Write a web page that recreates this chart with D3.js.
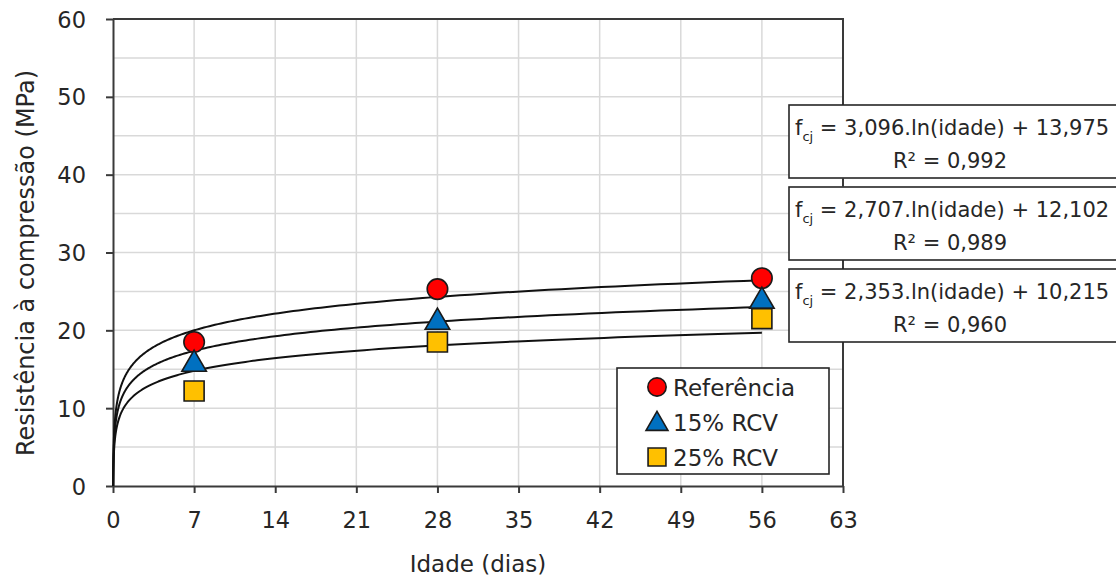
<!DOCTYPE html>
<html>
<head>
<meta charset="utf-8">
<script src="https://cdn.jsdelivr.net/npm/d3@7/dist/d3.min.js"></script>
<style>
  html, body { margin: 0; padding: 0; background: #fff; }
  svg text { font-family: "DejaVu Sans", sans-serif; fill: #262626; }
</style>
</head>
<body>
<div id="chart"></div>
<script>
// ages (days) where samples were tested
const ages = [7, 28, 56];
// series names and measured strengths (MPa)
const seriesNames = ["Referência", "15% RCV", "25% RCV"];
const refValues = [18.5, 25.3, 26.7];
const rcv15Values = [15.9, 21.3, 24.0];
const rcv25Values = [12.2, 18.5, 21.5];
// log trendline coefficients: f = a.ln(idade) + b
const trendA = [3.096, 2.707, 2.353];
const trendB = [13.975, 12.102, 10.215];
const trendA_txt = ["3,096", "2,707", "2,353"];
const trendB_txt = ["13,975", "12,102", "10,215"];
const r2Text = ["0,992", "0,989", "0,960"];
// axis ticks
const xTicks = [0, 7, 14, 21, 28, 35, 42, 49, 56, 63];
const yTicks = [0, 10, 20, 30, 40, 50, 60];
const yGrid = [5, 10, 15, 20, 25, 30, 35, 40, 45, 50, 55];

const W = 1116, H = 579;
const plot = { left: 113, right: 843, top: 19, bottom: 486 };

const svg = d3.select("#chart").append("svg")
  .attr("width", W).attr("height", H);
svg.append("rect").attr("width", W).attr("height", H).attr("fill", "#fff");

const x = d3.scaleLinear().domain([0, 63]).range([plot.left, plot.right]);
const y = d3.scaleLinear().domain([0, 60]).range([plot.bottom, plot.top]);

// gridlines
const grid = svg.append("g").attr("stroke", "#d9d9d9").attr("stroke-width", 1.5);
grid.selectAll(".gy").data(yGrid).enter().append("line")
  .attr("x1", plot.left).attr("x2", plot.right)
  .attr("y1", d => y(d)).attr("y2", d => y(d));
grid.selectAll(".gx").data(xTicks.slice(1, -1)).enter().append("line")
  .attr("y1", plot.top).attr("y2", plot.bottom)
  .attr("x1", d => x(d)).attr("x2", d => x(d));

// frame (top and right)
svg.append("path")
  .attr("d", `M${plot.left},${plot.top}H${plot.right}V${plot.bottom}`)
  .attr("fill", "none").attr("stroke", "#3a3a3a").attr("stroke-width", 2);

// axes
const yAxis = svg.append("g")
  .attr("transform", `translate(${plot.left},0)`)
  .call(d3.axisLeft(y).tickValues(yTicks).tickSize(7).tickPadding(20).tickSizeOuter(0));
const xAxis = svg.append("g")
  .attr("transform", `translate(0,${plot.bottom})`)
  .call(d3.axisBottom(x).tickValues(xTicks).tickSize(7).tickPadding(19).tickSizeOuter(0));
[xAxis, yAxis].forEach(g => {
  g.selectAll("path, line").attr("stroke", "#3a3a3a").attr("stroke-width", 2);
  g.selectAll("text").style("font-size", "22.5px").attr("fill", "#262626");
});
yAxis.selectAll("text").attr("dy", "0.36em");

// axis titles
svg.append("text")
  .attr("x", (plot.left + plot.right) / 2).attr("y", 572)
  .attr("text-anchor", "middle").style("font-size", "23px")
  .text("Idade (dias)");
svg.append("text")
  .attr("transform", `translate(34,263) rotate(-90)`)
  .attr("text-anchor", "middle").style("font-size", "24px")
  .text("Resistência à compressão (MPa)");

// trendlines
const line = d3.line().x(d => x(d[0])).y(d => y(d[1]));
trendA.forEach((a, i) => {
  const b = trendB[i];
  const x0 = Math.exp(-b / a);
  const pts = d3.range(0, 301).map(k => {
    const t = x0 * Math.pow(56 / x0, k / 300);
    return [t, a * Math.log(t) + b];
  });
  svg.append("path").attr("d", line(pts))
    .attr("fill", "none").attr("stroke", "#111").attr("stroke-width", 2);
});

// markers
const symbols = [d3.symbolCircle, d3.symbolTriangle, d3.symbolSquare];
const sizes = [330, 260, 400];
const fills = ["#ff0000", "#0070c0", "#ffc000"];
const allValues = [refValues, rcv15Values, rcv25Values];
allValues.forEach((vals, i) => {
  svg.append("g").selectAll("path").data(vals).enter().append("path")
    .attr("d", d3.symbol().type(symbols[i]).size(sizes[i]))
    .attr("transform", (d, j) => `translate(${x(ages[j])},${y(d) + (i === 1 ? 2 : 0)})`)
    .attr("fill", fills[i]).attr("stroke", "#1a1a1a").attr("stroke-width", 1.6);
});

// legend
const legend = svg.append("g").attr("transform", "translate(617,368)");
legend.append("rect").attr("width", 212).attr("height", 106)
  .attr("fill", "#fff").attr("stroke", "#262626").attr("stroke-width", 1.6);
seriesNames.forEach((name, i) => {
  const cy = 19 + i * 35;
  legend.append("path")
    .attr("d", d3.symbol().type(symbols[i]).size(sizes[i] * 0.8))
    .attr("transform", `translate(40,${cy + (i === 1 ? 2 : 0)})`)
    .attr("fill", fills[i]).attr("stroke", "#1a1a1a").attr("stroke-width", 1.6);
  legend.append("text").attr("x", 56).attr("y", cy + 8.5)
    .style("font-size", "23px").text(name);
});

// equation boxes
const boxTops = [105, 187, 269];
boxTops.forEach((top, i) => {
  const g = svg.append("g").attr("transform", `translate(789,${top})`);
  g.append("rect").attr("width", 340).attr("height", 73)
    .attr("fill", "#fff").attr("stroke", "#262626").attr("stroke-width", 1.6);
  const t = g.append("text").attr("x", 6).attr("y", 30).style("font-size", "21px");
  t.append("tspan").text("f");
  t.append("tspan").attr("dy", 6).style("font-size", "13px").text("cj");
  t.append("tspan").attr("dy", -6).text(` = ${trendA_txt[i]}.ln(idade) + ${trendB_txt[i]}`);
  const r = g.append("text").attr("x", 161).attr("y", 63)
    .attr("text-anchor", "middle").style("font-size", "21px");
  r.append("tspan").text("R² = " + r2Text[i]);
});
// frame segment visible through the gaps between boxes
svg.append("line").attr("x1", plot.right).attr("x2", plot.right)
  .attr("y1", 178).attr("y2", 187).attr("stroke", "#3a3a3a").attr("stroke-width", 2);
</script>
</body>
</html>
